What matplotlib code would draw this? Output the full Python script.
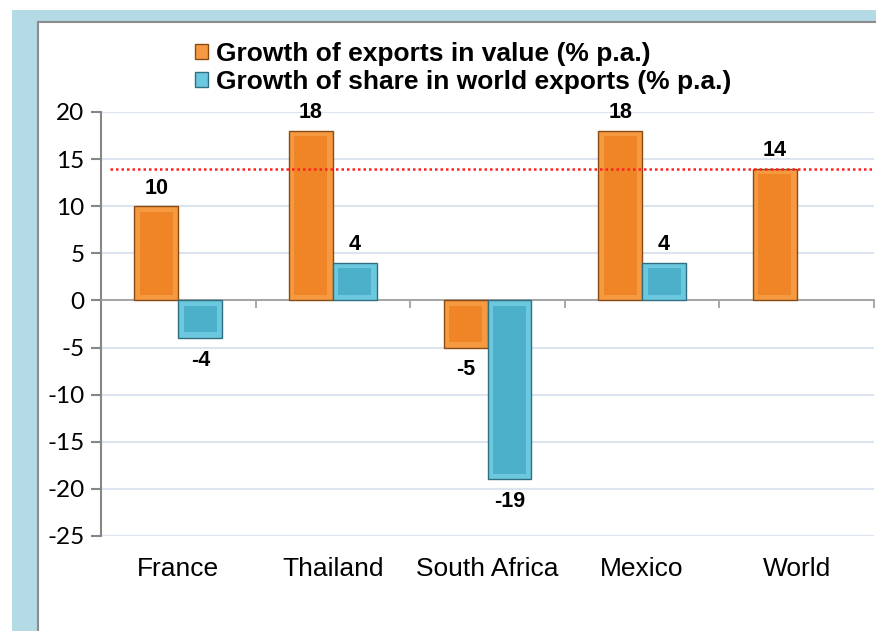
import matplotlib.pyplot as plt
from matplotlib.patches import Rectangle
import numpy as np

categories = ['France', 'Thailand', 'South Africa', 'Mexico', 'World']
value_growth = [10, 18, -5, 18, 14]
share_growth = [-4, 4, -19, 4, None]
series_names = ['Growth of exports in value (% p.a.)',
                'Growth of share in world exports (% p.a.)']
world_line = 14

plt.rcParams['axes.unicode_minus'] = False

W, H = 876, 631
fig = plt.figure(figsize=(W / 100, H / 100), dpi=100)
fig.patch.set_facecolor('white')

# frame: light blue band + white panel
fig.add_artist(Rectangle((12 / W, 0), 1, 1 - 10 / H, transform=fig.transFigure,
                         facecolor='#B3DAE5', edgecolor='none', zorder=0))
fig.add_artist(Rectangle((38 / W, -0.01), 1, 1 - 22 / H + 0.01, transform=fig.transFigure,
                         facecolor='white', edgecolor='#8C8C8C', linewidth=1.5, zorder=0))

ax = fig.add_axes([101 / W, 1 - 536 / H, 773 / W, 424 / H])
ax.set_facecolor('none')

x = np.arange(len(categories))
w = 0.284
bev_x = 0.035
bev_y = 0.6


def draw_bars(xs, vals, outer, inner, edge):
    cont = None
    for xi, v in zip(xs, vals):
        if v is None:
            continue
        b = ax.bar(xi, v, w, color=outer, edgecolor=edge, linewidth=1, zorder=3)
        if cont is None:
            cont = b
        s = np.sign(v)
        ax.bar(xi, v - 2 * s * bev_y, w - 2 * bev_x, bottom=s * bev_y,
               color=inner, edgecolor='none', zorder=4)
    return cont


h1 = draw_bars(x - w / 2, value_growth, '#F69A42', '#EF8527', '#8A4A14')
h2 = draw_bars(x + w / 2, share_growth, '#6CC8DE', '#4DB0CA', '#2F6F80')


def label(xs, vals):
    for xi, v in zip(xs, vals):
        if v is None:
            continue
        ax.annotate(str(v), (xi, v), xytext=(0, 13 if v > 0 else -16), textcoords='offset points',
                    ha='center', va='center', fontsize=15.5, fontweight='bold',
                    family='Liberation Sans')


label(x - w / 2, value_growth)
label(x + w / 2, share_growth)

ax.axhline(world_line, xmin=9 / 773, xmax=1, color='#FF2020', linestyle=(0, (1, 1.2)),
           linewidth=1.8, zorder=5)

ax.set_xlim(-0.5, len(categories) - 0.5)
ax.set_ylim(-25, 20)
ax.set_yticks(np.arange(-25, 21, 5))
ax.yaxis.grid(True, color='#DCE4F0', linewidth=1.5, zorder=0)
ax.set_axisbelow(True)
ax.tick_params(axis='y', length=7, width=1.5, color='#868686', labelsize=17.5, pad=5)
for lab in ax.get_yticklabels():
    lab.set_family('Lato')

ax.spines['top'].set_visible(False)
ax.spines['right'].set_visible(False)
ax.spines['left'].set_color('#868686')
ax.spines['left'].set_linewidth(1.5)
ax.spines['bottom'].set_position(('data', 0))
ax.spines['bottom'].set_color('#9A9A9A')
ax.spines['bottom'].set_linewidth(1.2)
ax.set_xticks(np.arange(len(categories) + 1) - 0.5)
ax.set_xticklabels([])
ax.tick_params(axis='x', length=6, width=1.2, color='#9A9A9A')
for xi, c in zip(x, categories):
    ax.text(xi, -0.078, c, transform=ax.get_xaxis_transform(), ha='center', va='center',
            fontsize=19, family='Liberation Sans')

fig.legend([h1, h2], series_names, loc='upper left', bbox_to_anchor=(182 / W, 1 - 29 / H),
           frameon=False, borderpad=0, handlelength=0.5, handleheight=0.5,
           handletextpad=0.3, labelspacing=0.15,
           prop={'family': 'Liberation Sans', 'weight': 'bold', 'size': 19})

fig.savefig('out.png', dpi=100)
